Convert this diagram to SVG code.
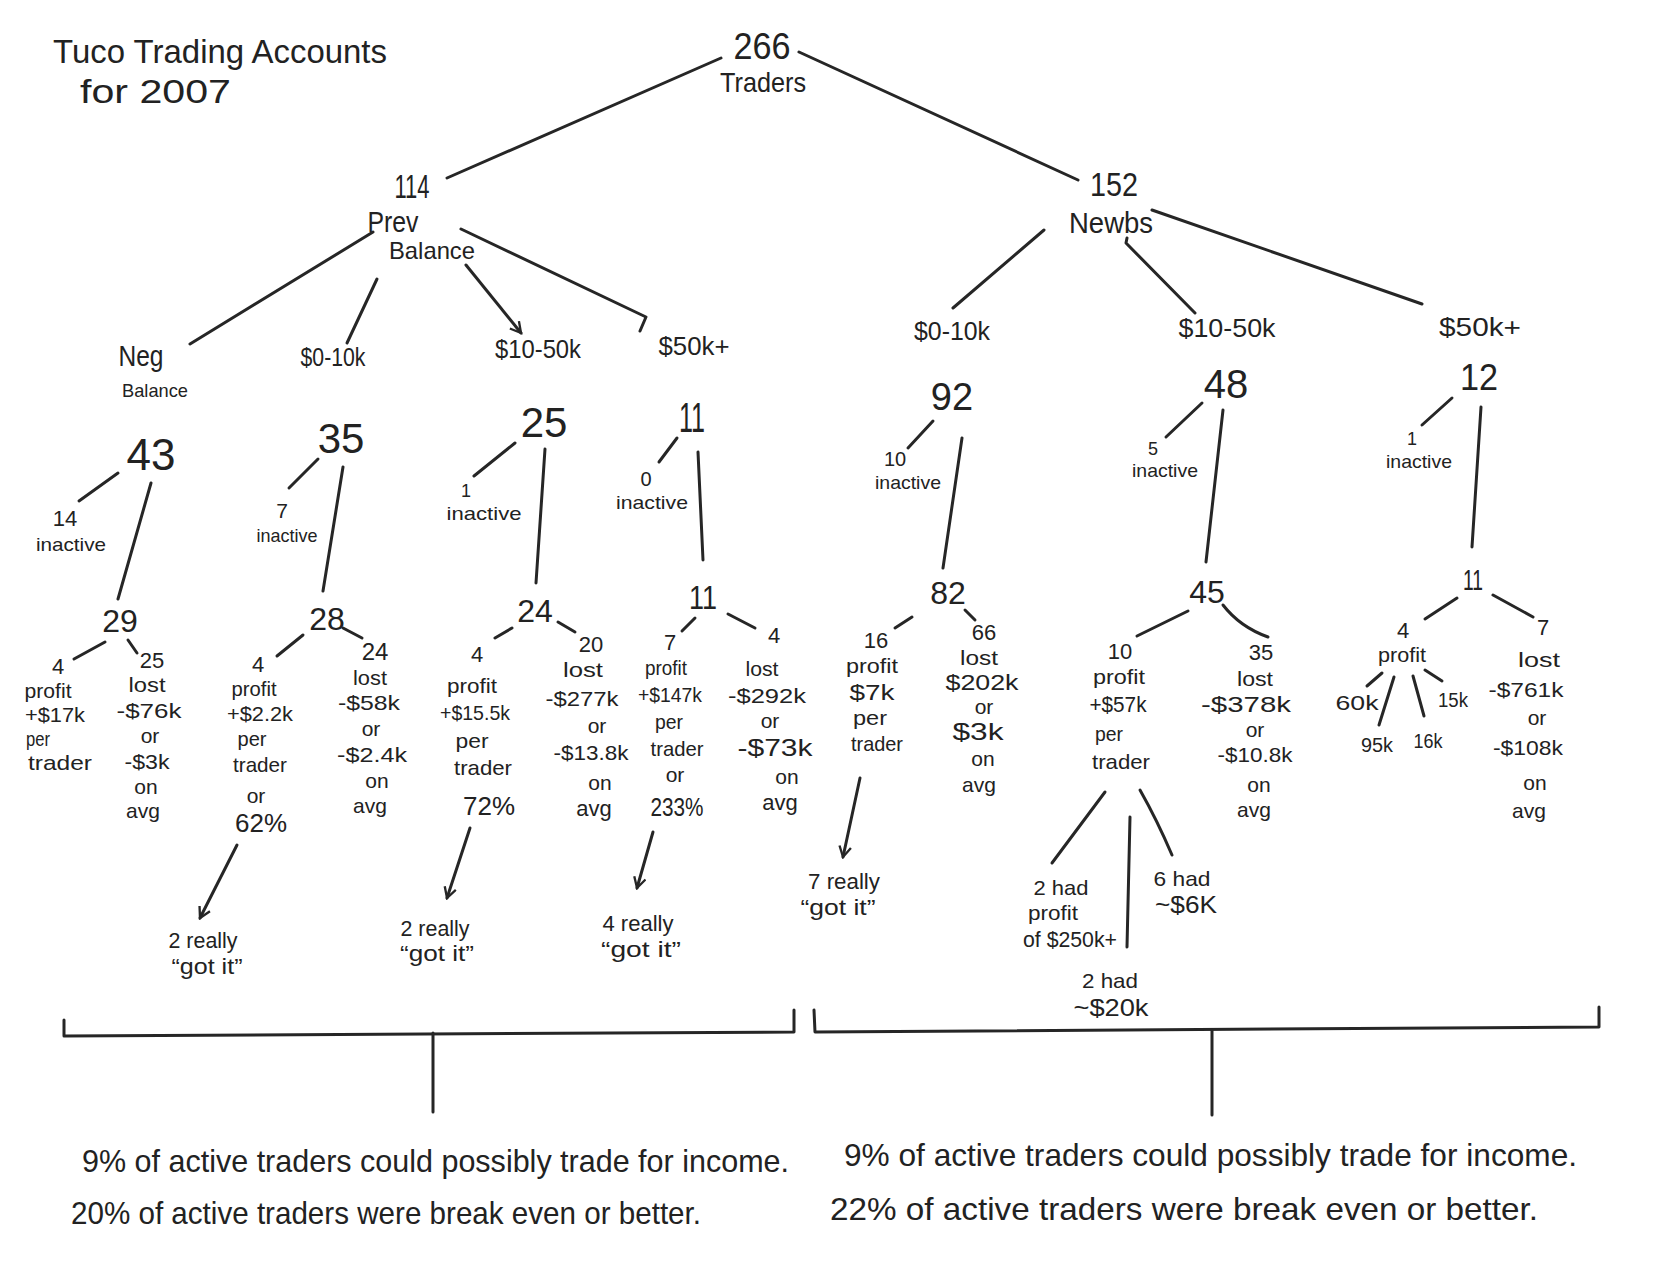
<svg xmlns="http://www.w3.org/2000/svg" width="1664" height="1280" viewBox="0 0 1664 1280">
<style>
text{font-family:"Liberation Sans",Arial,sans-serif;fill:#222;text-anchor:middle}
.s{text-anchor:start}
.f18{font-size:18px}.f19{font-size:19px}.f20{font-size:20px}.f21{font-size:21px}.f22{font-size:22px}.f24{font-size:24px}.f26{font-size:26px}.f28{font-size:28px}.f30{font-size:30px}.f32{font-size:32px}.f34{font-size:34px}.f36{font-size:36px}.f38{font-size:38px}.f40{font-size:40px}.f42{font-size:42px}.f44{font-size:44px}
.c line,.c path,.c polyline{stroke:#262626;stroke-width:3;fill:none;stroke-linecap:round;stroke-linejoin:round}
</style>
<defs>
<marker id="arr" viewBox="0 0 12 12" refX="10" refY="6" markerWidth="14" markerHeight="14" markerUnits="userSpaceOnUse" orient="auto">
<path d="M1,1 L10,6 L1,11" fill="none" stroke="#262626" stroke-width="2"/>
</marker>
</defs>
<rect width="1664" height="1280" fill="#fff"/>

<g id="title">
<text class="s f34" x="53" y="63" textLength="334" lengthAdjust="spacingAndGlyphs">Tuco Trading Accounts</text>
<text class="s f34" x="80" y="103" textLength="151" lengthAdjust="spacingAndGlyphs">for 2007</text>
</g>

<g class="c" id="connectors">
<line x1="721" y1="58" x2="447" y2="178"/>
<line x1="799" y1="52" x2="1078" y2="180"/>
<line x1="373" y1="232" x2="190" y2="344"/>
<line x1="377" y1="279" x2="347" y2="343"/>
<line x1="466" y1="265" x2="521" y2="333" marker-end="url(#arr)"/>
<polyline points="461,229 646,317 640,331"/>
<line x1="1044" y1="230" x2="953" y2="308"/>
<polyline points="1127,238 1126,243 1195,313"/>
<line x1="1152" y1="210" x2="1422" y2="304"/>
<line x1="118" y1="473" x2="79" y2="501"/>
<line x1="151" y1="483" x2="118" y2="599"/>
<line x1="318" y1="459" x2="289" y2="488"/>
<line x1="343" y1="467" x2="323" y2="591"/>
<line x1="515" y1="443" x2="474" y2="476"/>
<line x1="545" y1="449" x2="536" y2="583"/>
<line x1="677" y1="438" x2="659" y2="462"/>
<line x1="698" y1="452" x2="703" y2="560"/>
<line x1="933" y1="421" x2="908" y2="448"/>
<line x1="962" y1="438" x2="943" y2="568"/>
<line x1="1202" y1="403" x2="1166" y2="437"/>
<line x1="1223" y1="410" x2="1206" y2="562"/>
<line x1="1452" y1="398" x2="1422" y2="425"/>
<line x1="1481" y1="407" x2="1472" y2="547"/>
<line x1="105" y1="642" x2="74" y2="659"/>
<line x1="128" y1="640" x2="137" y2="653"/>
<line x1="303" y1="635" x2="277" y2="656"/>
<line x1="343" y1="628" x2="362" y2="638"/>
<line x1="512" y1="628" x2="495" y2="638"/>
<line x1="558" y1="622" x2="575" y2="632"/>
<line x1="695" y1="618" x2="682" y2="631"/>
<line x1="728" y1="614" x2="755" y2="628"/>
<line x1="912" y1="617" x2="895" y2="628"/>
<line x1="965" y1="610" x2="975" y2="620"/>
<line x1="1188" y1="611" x2="1137" y2="636"/>
<path d="M1223,605 Q1240,627 1268,637"/>
<line x1="1457" y1="598" x2="1425" y2="619"/>
<line x1="1493" y1="595" x2="1533" y2="617"/>
<line x1="1382" y1="673" x2="1367" y2="686"/>
<line x1="1394" y1="677" x2="1379" y2="725"/>
<line x1="1413" y1="676" x2="1424" y2="716"/>
<line x1="1425" y1="670" x2="1442" y2="681"/>
<line x1="237" y1="845" x2="200" y2="918" marker-end="url(#arr)"/>
<line x1="470" y1="828" x2="447" y2="898" marker-end="url(#arr)"/>
<line x1="653" y1="832" x2="637" y2="888" marker-end="url(#arr)"/>
<line x1="860" y1="778" x2="843" y2="857" marker-end="url(#arr)"/>
<line x1="1105" y1="792" x2="1052" y2="863"/>
<line x1="1130" y1="817" x2="1127" y2="947"/>
<path d="M1140,790 Q1157,820 1172,855"/>
<polyline points="64,1020 64,1036 794,1032 794,1010"/>
<line x1="433" y1="1033" x2="433" y2="1112"/>
<polyline points="814,1010 815,1032 1599,1027 1599,1007"/>
<line x1="1212" y1="1030" x2="1212" y2="1115"/>
</g>

<g id="n266">
<text class="f36" x="762" y="59" textLength="57" lengthAdjust="spacingAndGlyphs">266</text>
<text class="f28" x="763" y="92" textLength="86" lengthAdjust="spacingAndGlyphs">Traders</text>
</g>
<g id="n114">
<text class="f34" x="412" y="198" textLength="35" lengthAdjust="spacingAndGlyphs">114</text>
<text class="f30" x="393" y="232" textLength="51" lengthAdjust="spacingAndGlyphs">Prev</text>
<text class="f24" x="432" y="259" textLength="86" lengthAdjust="spacingAndGlyphs">Balance</text>
</g>
<g id="n152">
<text class="f34" x="1114" y="196" textLength="48" lengthAdjust="spacingAndGlyphs">152</text>
<text class="f30" x="1111" y="233" textLength="84" lengthAdjust="spacingAndGlyphs">Newbs</text>
</g>

<g id="neg">
<text class="f30" x="141" y="366" textLength="45" lengthAdjust="spacingAndGlyphs">Neg</text>
<text class="f19" x="155" y="397" textLength="66" lengthAdjust="spacingAndGlyphs">Balance</text>
<text class="f44" x="151" y="470">43</text>
<text class="f22" x="65" y="526">14</text>
<text class="f19" x="71" y="551" textLength="70" lengthAdjust="spacingAndGlyphs">inactive</text>
<text class="f32" x="120" y="632">29</text>
</g>
<g id="neg-profit">
<text class="f22" x="58" y="674">4</text>
<text class="f21" x="48" y="698" textLength="47" lengthAdjust="spacingAndGlyphs">profit</text>
<text class="f21" x="55" y="722" textLength="60" lengthAdjust="spacingAndGlyphs">+$17k</text>
<text class="f21" x="38" y="746" textLength="24" lengthAdjust="spacingAndGlyphs">per</text>
<text class="f21" x="60" y="770" textLength="64" lengthAdjust="spacingAndGlyphs">trader</text>
</g>
<g id="neg-lost">
<text class="f22" x="152" y="668">25</text>
<text class="f21" x="147" y="692" textLength="37" lengthAdjust="spacingAndGlyphs">lost</text>
<text class="f21" x="149" y="718" textLength="65" lengthAdjust="spacingAndGlyphs">-$76k</text>
<text class="f21" x="150" y="743">or</text>
<text class="f21" x="147" y="769" textLength="45" lengthAdjust="spacingAndGlyphs">-$3k</text>
<text class="f21" x="146" y="794">on</text>
<text class="f21" x="143" y="818">avg</text>
</g>

<g id="p0-10k">
<text class="f26" x="333" y="366" textLength="65" lengthAdjust="spacingAndGlyphs">$0-10k</text>
<text class="f42" x="341" y="453">35</text>
<text class="f21" x="282" y="518">7</text>
<text class="f19" x="287" y="542" textLength="61" lengthAdjust="spacingAndGlyphs">inactive</text>
<text class="f32" x="327" y="630">28</text>
</g>
<g id="p0-10k-profit">
<text class="f22" x="258" y="672">4</text>
<text class="f21" x="254" y="696" textLength="45" lengthAdjust="spacingAndGlyphs">profit</text>
<text class="f21" x="260" y="721" textLength="66" lengthAdjust="spacingAndGlyphs">+$2.2k</text>
<text class="f21" x="252" y="746" textLength="29" lengthAdjust="spacingAndGlyphs">per</text>
<text class="f21" x="260" y="772" textLength="54" lengthAdjust="spacingAndGlyphs">trader</text>
<text class="f21" x="256" y="803">or</text>
<text class="f26" x="261" y="832" textLength="52" lengthAdjust="spacingAndGlyphs">62%</text>
</g>
<g id="p0-10k-lost">
<text class="f24" x="375" y="660">24</text>
<text class="f21" x="370" y="685" textLength="34" lengthAdjust="spacingAndGlyphs">lost</text>
<text class="f21" x="369" y="710" textLength="62" lengthAdjust="spacingAndGlyphs">-$58k</text>
<text class="f21" x="371" y="736">or</text>
<text class="f21" x="372" y="762" textLength="70" lengthAdjust="spacingAndGlyphs">-$2.4k</text>
<text class="f21" x="377" y="788">on</text>
<text class="f21" x="370" y="813">avg</text>
</g>
<g id="p0-10k-got">
<text class="f22" x="203" y="948" textLength="69" lengthAdjust="spacingAndGlyphs">2 really</text>
<text class="f22" x="207" y="974" textLength="71" lengthAdjust="spacingAndGlyphs">“got it”</text>
</g>

<g id="p10-50k">
<text class="f26" x="538" y="358" textLength="86" lengthAdjust="spacingAndGlyphs">$10-50k</text>
<text class="f42" x="544" y="437">25</text>
<text class="f18" x="466" y="497">1</text>
<text class="f19" x="484" y="520" textLength="75" lengthAdjust="spacingAndGlyphs">inactive</text>
<text class="f32" x="535" y="622">24</text>
</g>
<g id="p10-50k-profit">
<text class="f22" x="477" y="662">4</text>
<text class="f21" x="472" y="693" textLength="50" lengthAdjust="spacingAndGlyphs">profit</text>
<text class="f21" x="475" y="720" textLength="70" lengthAdjust="spacingAndGlyphs">+$15.5k</text>
<text class="f21" x="472" y="748" textLength="33" lengthAdjust="spacingAndGlyphs">per</text>
<text class="f21" x="483" y="775" textLength="58" lengthAdjust="spacingAndGlyphs">trader</text>
<text class="f26" x="489" y="815" textLength="52" lengthAdjust="spacingAndGlyphs">72%</text>
</g>
<g id="p10-50k-lost">
<text class="f22" x="591" y="652">20</text>
<text class="f21" x="583" y="677" textLength="40" lengthAdjust="spacingAndGlyphs">lost</text>
<text class="f21" x="582" y="706" textLength="73" lengthAdjust="spacingAndGlyphs">-$277k</text>
<text class="f21" x="597" y="733">or</text>
<text class="f21" x="591" y="760" textLength="75" lengthAdjust="spacingAndGlyphs">-$13.8k</text>
<text class="f21" x="600" y="790">on</text>
<text class="f22" x="594" y="816">avg</text>
</g>
<g id="p10-50k-got">
<text class="f22" x="435" y="936" textLength="69" lengthAdjust="spacingAndGlyphs">2 really</text>
<text class="f22" x="437" y="961" textLength="74" lengthAdjust="spacingAndGlyphs">“got it”</text>
</g>

<g id="p50k">
<text class="f26" x="694" y="355" textLength="71" lengthAdjust="spacingAndGlyphs">$50k+</text>
<text class="f42" x="692" y="432" textLength="26" lengthAdjust="spacingAndGlyphs">11</text>
<text class="f20" x="646" y="486">0</text>
<text class="f19" x="652" y="509" textLength="72" lengthAdjust="spacingAndGlyphs">inactive</text>
<text class="f34" x="703" y="609" textLength="28" lengthAdjust="spacingAndGlyphs">11</text>
</g>
<g id="p50k-profit">
<text class="f22" x="670" y="650">7</text>
<text class="f21" x="666" y="675" textLength="42" lengthAdjust="spacingAndGlyphs">profit</text>
<text class="f21" x="670" y="702" textLength="64" lengthAdjust="spacingAndGlyphs">+$147k</text>
<text class="f21" x="669" y="729" textLength="28" lengthAdjust="spacingAndGlyphs">per</text>
<text class="f21" x="677" y="756" textLength="53" lengthAdjust="spacingAndGlyphs">trader</text>
<text class="f21" x="675" y="782">or</text>
<text class="f26" x="677" y="816" textLength="53" lengthAdjust="spacingAndGlyphs">233%</text>
</g>
<g id="p50k-lost">
<text class="f22" x="774" y="643">4</text>
<text class="f21" x="762" y="676" textLength="33" lengthAdjust="spacingAndGlyphs">lost</text>
<text class="f21" x="767" y="703" textLength="78" lengthAdjust="spacingAndGlyphs">-$292k</text>
<text class="f21" x="770" y="728">or</text>
<text class="f24" x="775" y="756" textLength="75" lengthAdjust="spacingAndGlyphs">-$73k</text>
<text class="f21" x="787" y="784">on</text>
<text class="f22" x="780" y="810">avg</text>
</g>
<g id="p50k-got">
<text class="f22" x="638" y="931" textLength="71" lengthAdjust="spacingAndGlyphs">4 really</text>
<text class="f22" x="641" y="957" textLength="80" lengthAdjust="spacingAndGlyphs">“got it”</text>
</g>

<g id="n0-10k">
<text class="f26" x="952" y="340" textLength="76" lengthAdjust="spacingAndGlyphs">$0-10k</text>
<text class="f38" x="952" y="410">92</text>
<text class="f20" x="895" y="466">10</text>
<text class="f19" x="908" y="489" textLength="66" lengthAdjust="spacingAndGlyphs">inactive</text>
<text class="f32" x="948" y="604">82</text>
</g>
<g id="n0-10k-profit">
<text class="f22" x="876" y="648">16</text>
<text class="f21" x="872" y="673" textLength="52" lengthAdjust="spacingAndGlyphs">profit</text>
<text class="f22" x="872" y="700" textLength="45" lengthAdjust="spacingAndGlyphs">$7k</text>
<text class="f21" x="870" y="725" textLength="34" lengthAdjust="spacingAndGlyphs">per</text>
<text class="f21" x="877" y="751" textLength="52" lengthAdjust="spacingAndGlyphs">trader</text>
</g>
<g id="n0-10k-lost">
<text class="f22" x="984" y="640">66</text>
<text class="f21" x="979" y="665" textLength="38" lengthAdjust="spacingAndGlyphs">lost</text>
<text class="f22" x="982" y="690" textLength="73" lengthAdjust="spacingAndGlyphs">$202k</text>
<text class="f21" x="984" y="714">or</text>
<text class="f24" x="978" y="740" textLength="51" lengthAdjust="spacingAndGlyphs">$3k</text>
<text class="f21" x="983" y="766">on</text>
<text class="f21" x="979" y="792">avg</text>
</g>
<g id="n0-10k-got">
<text class="f22" x="844" y="889" textLength="72" lengthAdjust="spacingAndGlyphs">7 really</text>
<text class="f22" x="838" y="915" textLength="75" lengthAdjust="spacingAndGlyphs">“got it”</text>
</g>

<g id="n10-50k">
<text class="f26" x="1227" y="337" textLength="97" lengthAdjust="spacingAndGlyphs">$10-50k</text>
<text class="f40" x="1226" y="398">48</text>
<text class="f18" x="1153" y="455">5</text>
<text class="f19" x="1165" y="477" textLength="66" lengthAdjust="spacingAndGlyphs">inactive</text>
<text class="f32" x="1207" y="603">45</text>
</g>
<g id="n10-50k-profit">
<text class="f22" x="1120" y="659">10</text>
<text class="f21" x="1119" y="684" textLength="52" lengthAdjust="spacingAndGlyphs">profit</text>
<text class="f22" x="1118" y="712" textLength="57" lengthAdjust="spacingAndGlyphs">+$57k</text>
<text class="f21" x="1109" y="741" textLength="28" lengthAdjust="spacingAndGlyphs">per</text>
<text class="f21" x="1121" y="769" textLength="58" lengthAdjust="spacingAndGlyphs">trader</text>
</g>
<g id="n10-50k-detail">
<text class="f21" x="1061" y="895" textLength="55" lengthAdjust="spacingAndGlyphs">2 had</text>
<text class="f21" x="1053" y="920" textLength="50" lengthAdjust="spacingAndGlyphs">profit</text>
<text class="f22" x="1070" y="947" textLength="94" lengthAdjust="spacingAndGlyphs">of $250k+</text>
<text class="f21" x="1110" y="988" textLength="56" lengthAdjust="spacingAndGlyphs">2 had</text>
<text class="f24" x="1111" y="1016" textLength="75" lengthAdjust="spacingAndGlyphs">~$20k</text>
<text class="f21" x="1182" y="886" textLength="57" lengthAdjust="spacingAndGlyphs">6 had</text>
<text class="f24" x="1186" y="913" textLength="62" lengthAdjust="spacingAndGlyphs">~$6K</text>
</g>
<g id="n10-50k-lost">
<text class="f22" x="1261" y="660">35</text>
<text class="f21" x="1255" y="686" textLength="36" lengthAdjust="spacingAndGlyphs">lost</text>
<text class="f22" x="1246" y="712" textLength="90" lengthAdjust="spacingAndGlyphs">-$378k</text>
<text class="f21" x="1255" y="737">or</text>
<text class="f21" x="1255" y="762" textLength="75" lengthAdjust="spacingAndGlyphs">-$10.8k</text>
<text class="f21" x="1259" y="792">on</text>
<text class="f21" x="1254" y="817">avg</text>
</g>

<g id="n50k">
<text class="f26" x="1480" y="336" textLength="82" lengthAdjust="spacingAndGlyphs">$50k+</text>
<text class="f36" x="1479" y="390" textLength="38" lengthAdjust="spacingAndGlyphs">12</text>
<text class="f18" x="1412" y="445">1</text>
<text class="f19" x="1419" y="468" textLength="66" lengthAdjust="spacingAndGlyphs">inactive</text>
<text class="f30" x="1473" y="590" textLength="20" lengthAdjust="spacingAndGlyphs">11</text>
</g>
<g id="n50k-profit">
<text class="f22" x="1403" y="638">4</text>
<text class="f21" x="1402" y="662" textLength="48" lengthAdjust="spacingAndGlyphs">profit</text>
<text class="f20" x="1357" y="710" textLength="43" lengthAdjust="spacingAndGlyphs">60k</text>
<text class="f20" x="1377" y="752" textLength="32" lengthAdjust="spacingAndGlyphs">95k</text>
<text class="f20" x="1428" y="748" textLength="29" lengthAdjust="spacingAndGlyphs">16k</text>
<text class="f20" x="1453" y="707" textLength="30" lengthAdjust="spacingAndGlyphs">15k</text>
</g>
<g id="n50k-lost">
<text class="f22" x="1543" y="635">7</text>
<text class="f21" x="1539" y="667" textLength="42" lengthAdjust="spacingAndGlyphs">lost</text>
<text class="f21" x="1526" y="697" textLength="75" lengthAdjust="spacingAndGlyphs">-$761k</text>
<text class="f21" x="1537" y="725">or</text>
<text class="f21" x="1528" y="755" textLength="70" lengthAdjust="spacingAndGlyphs">-$108k</text>
<text class="f21" x="1535" y="790">on</text>
<text class="f21" x="1529" y="818">avg</text>
</g>

<g id="summary-left">
<text class="s f32" x="82" y="1172" textLength="707" lengthAdjust="spacingAndGlyphs">9% of active traders could possibly trade for income.</text>
<text class="s f32" x="71" y="1224" textLength="630" lengthAdjust="spacingAndGlyphs">20% of active traders were break even or better.</text>
</g>
<g id="summary-right">
<text class="s f32" x="844" y="1166" textLength="733" lengthAdjust="spacingAndGlyphs">9% of active traders could possibly trade for income.</text>
<text class="s f32" x="830" y="1220" textLength="708" lengthAdjust="spacingAndGlyphs">22% of active traders were break even or better.</text>
</g>
</svg>
